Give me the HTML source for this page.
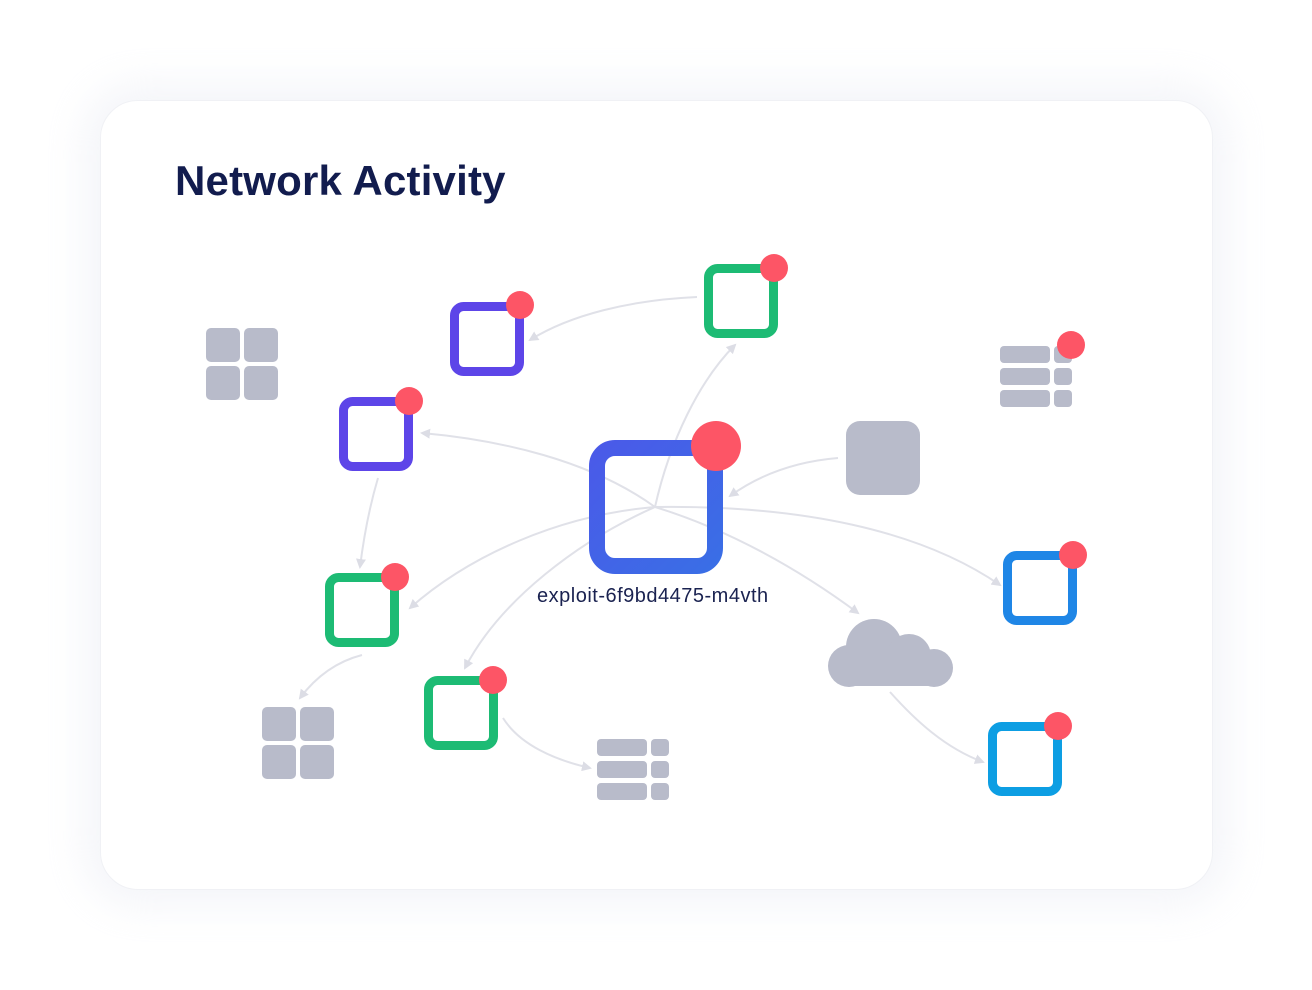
<!DOCTYPE html>
<html><head><meta charset="utf-8"><style>
html,body{margin:0;padding:0;background:#fff;}
body{width:1312px;height:990px;position:relative;overflow:hidden;font-family:"Liberation Sans",sans-serif;}
.card{position:absolute;left:100px;top:100px;width:1113px;height:790px;border-radius:38px;background:#fff;box-shadow:0 0 40px 16px rgba(228,230,240,0.4);border:1px solid #f0f1f5;box-sizing:border-box;}
h1{position:absolute;left:175px;top:157px;margin:0;font-size:42px;font-weight:bold;color:#121c4e;letter-spacing:0.2px;}
.lbl{position:absolute;left:537px;top:585px;font-size:20px;letter-spacing:0.5px;color:#1a2250;}
svg{position:absolute;left:0;top:0;}
</style></head><body>
<div class="card"></div>
<h1>Network Activity</h1>
<svg width="1312" height="990" viewBox="0 0 1312 990">
<defs>
<marker id="a" markerWidth="10" markerHeight="10" refX="8" refY="5" orient="auto" markerUnits="userSpaceOnUse"><path d="M0,0 L10,5 L0,10 z" fill="#dcdde5"/></marker>
<linearGradient id="g" x1="0" y1="0" x2="1" y2="1"><stop offset="0" stop-color="#4a5ae8"/><stop offset="1" stop-color="#3a6ee6"/></linearGradient>
</defs>
<g fill="none" stroke="#e0e1e8" stroke-width="2" marker-end="url(#a)">
<path d="M655,507 C590,460 500,440 422,433"/>
<path d="M655,507 C670,440 700,380 735,345"/>
<path d="M655,507 C800,505 920,530 1000,585"/>
<path d="M655,507 C730,530 800,570 858,613"/>
<path d="M655,507 C560,515 470,555 410,608"/>
<path d="M655,507 C580,540 500,600 465,668"/>
<path d="M838,458 C790,462 755,478 730,496"/>
<path d="M697,297 C630,300 570,315 530,340"/>
<path d="M378,478 C370,505 364,535 360,567"/>
<path d="M362,655 C335,662 315,678 300,698"/>
<path d="M503,718 C520,745 555,760 590,768"/>
<path d="M890,692 C915,720 945,748 983,762"/>
</g>
<g fill="#b8bbca">
<rect x="206" y="328" width="34" height="34" rx="5"/><rect x="244" y="328" width="34" height="34" rx="5"/>
<rect x="206" y="366" width="34" height="34" rx="5"/><rect x="244" y="366" width="34" height="34" rx="5"/>
<rect x="262" y="707" width="34" height="34" rx="5"/><rect x="300" y="707" width="34" height="34" rx="5"/>
<rect x="262" y="745" width="34" height="34" rx="5"/><rect x="300" y="745" width="34" height="34" rx="5"/>
<rect x="1000" y="346" width="50" height="17" rx="4"/><rect x="1054" y="346" width="18" height="17" rx="4"/>
<rect x="1000" y="368" width="50" height="17" rx="4"/><rect x="1054" y="368" width="18" height="17" rx="4"/>
<rect x="1000" y="390" width="50" height="17" rx="4"/><rect x="1054" y="390" width="18" height="17" rx="4"/>
<rect x="597" y="739" width="50" height="17" rx="4"/><rect x="651" y="739" width="18" height="17" rx="4"/>
<rect x="597" y="761" width="50" height="17" rx="4"/><rect x="651" y="761" width="18" height="17" rx="4"/>
<rect x="597" y="783" width="50" height="17" rx="4"/><rect x="651" y="783" width="18" height="17" rx="4"/>
<rect x="846" y="421" width="74" height="74" rx="14"/>
<circle cx="849" cy="666" r="21"/><circle cx="874" cy="647" r="28"/><circle cx="909" cy="656" r="22"/><circle cx="934" cy="668" r="19"/>
<rect x="849" y="655" width="86" height="31"/>
</g>
<g fill="none" stroke-width="9">
<rect x="454.5" y="306.5" width="65" height="65" rx="9" stroke="#5d45e8"/>
<rect x="708.5" y="268.5" width="65" height="65" rx="9" stroke="#1dbb74"/>
<rect x="343.5" y="401.5" width="65" height="65" rx="9" stroke="#5d45e8"/>
<rect x="329.5" y="577.5" width="65" height="65" rx="9" stroke="#1dbb74"/>
<rect x="428.5" y="680.5" width="65" height="65" rx="9" stroke="#1dbb74"/>
<rect x="1007.5" y="555.5" width="65" height="65" rx="9" stroke="#1f86e6"/>
<rect x="992.5" y="726.5" width="65" height="65" rx="9" stroke="#0d9ee3"/>
<rect x="597" y="448" width="118" height="118" rx="18" stroke="url(#g)" stroke-width="16"/>
</g>
<g fill="#fd5566">
<circle cx="520" cy="305" r="14"/><circle cx="774" cy="268" r="14"/><circle cx="409" cy="401" r="14"/>
<circle cx="395" cy="577" r="14"/><circle cx="493" cy="680" r="14"/><circle cx="1073" cy="555" r="14"/>
<circle cx="1058" cy="726" r="14"/><circle cx="1071" cy="345" r="14"/><circle cx="716" cy="446" r="25"/>
</g>
</svg>
<div class="lbl">exploit-6f9bd4475-m4vth</div>
</body></html>
